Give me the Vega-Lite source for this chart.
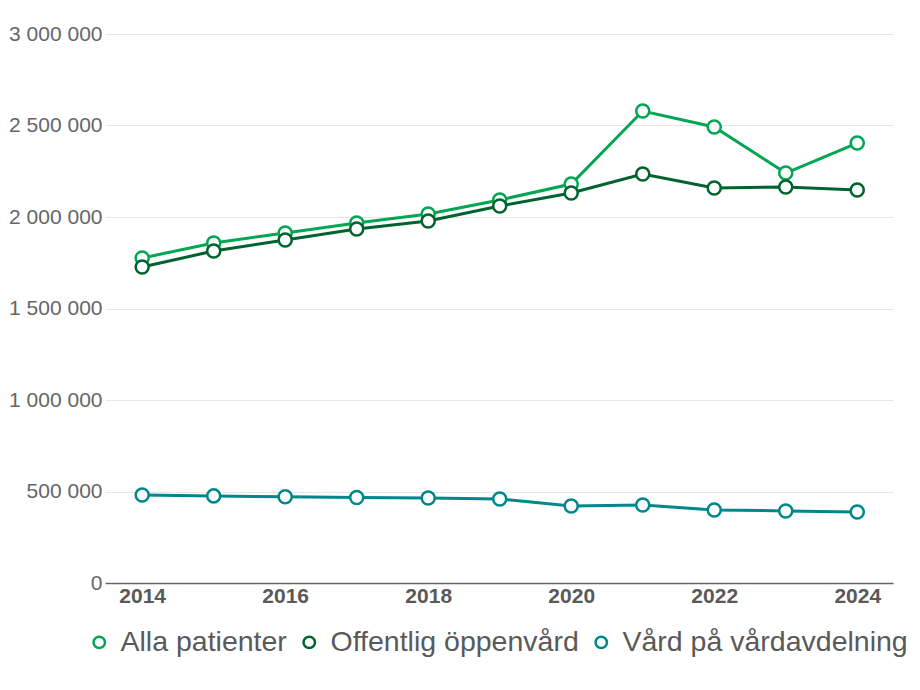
{
  "$schema": "https://vega.github.io/schema/vega-lite/v6.json",
  "autosize": {"type": "none"},
  "padding": {"left": 105, "top": 34, "right": 27, "bottom": 107},
  "width": 788,
  "height": 549,
  "background": "white",
  "config": {
    "locale": {"number": {"decimal": ",", "thousands": " ", "grouping": [3], "currency": ["", " kr"]}},
    "font": "Liberation Sans",
    "view": {"stroke": null}
  },
  "data": {
    "values": [
      {"year": 2014, "serie": "Alla patienter", "value": 1776000},
      {"year": 2015, "serie": "Alla patienter", "value": 1858000},
      {"year": 2016, "serie": "Alla patienter", "value": 1913000},
      {"year": 2017, "serie": "Alla patienter", "value": 1967000},
      {"year": 2018, "serie": "Alla patienter", "value": 2016000},
      {"year": 2019, "serie": "Alla patienter", "value": 2093000},
      {"year": 2020, "serie": "Alla patienter", "value": 2180000},
      {"year": 2021, "serie": "Alla patienter", "value": 2579000},
      {"year": 2022, "serie": "Alla patienter", "value": 2492000},
      {"year": 2023, "serie": "Alla patienter", "value": 2240000},
      {"year": 2024, "serie": "Alla patienter", "value": 2404000},
      {"year": 2014, "serie": "Offentlig öppenvård", "value": 1727000},
      {"year": 2015, "serie": "Offentlig öppenvård", "value": 1814000},
      {"year": 2016, "serie": "Offentlig öppenvård", "value": 1874000},
      {"year": 2017, "serie": "Offentlig öppenvård", "value": 1934000},
      {"year": 2018, "serie": "Offentlig öppenvård", "value": 1978000},
      {"year": 2019, "serie": "Offentlig öppenvård", "value": 2060000},
      {"year": 2020, "serie": "Offentlig öppenvård", "value": 2131000},
      {"year": 2021, "serie": "Offentlig öppenvård", "value": 2235000},
      {"year": 2022, "serie": "Offentlig öppenvård", "value": 2158000},
      {"year": 2023, "serie": "Offentlig öppenvård", "value": 2164000},
      {"year": 2024, "serie": "Offentlig öppenvård", "value": 2148000},
      {"year": 2014, "serie": "Vård på vårdavdelning", "value": 481000},
      {"year": 2015, "serie": "Vård på vårdavdelning", "value": 476000},
      {"year": 2016, "serie": "Vård på vårdavdelning", "value": 471000},
      {"year": 2017, "serie": "Vård på vårdavdelning", "value": 467000},
      {"year": 2018, "serie": "Vård på vårdavdelning", "value": 464000},
      {"year": 2019, "serie": "Vård på vårdavdelning", "value": 459000},
      {"year": 2020, "serie": "Vård på vårdavdelning", "value": 421000},
      {"year": 2021, "serie": "Vård på vårdavdelning", "value": 426000},
      {"year": 2022, "serie": "Vård på vårdavdelning", "value": 399000},
      {"year": 2023, "serie": "Vård på vårdavdelning", "value": 394000},
      {"year": 2024, "serie": "Vård på vårdavdelning", "value": 388000}
    ]
  },
  "encoding": {
    "x": {
      "field": "year", "type": "quantitative",
      "scale": {"domain": [2013.48, 2024.5], "nice": false, "zero": false},
      "axis": {
        "title": null, "values": [2014, 2016, 2018, 2020, 2022, 2024], "format": "d",
        "grid": false, "ticks": false, "domainColor": "#666666", "domainWidth": 1.5,
        "labelFont": "Liberation Sans", "labelFontSize": 21, "labelFontWeight": "bold",
        "labelColor": "#595959", "labelPadding": 2
      }
    },
    "y": {
      "field": "value", "type": "quantitative",
      "scale": {"domain": [0, 3000000], "nice": false},
      "axis": {
        "title": null, "values": [0, 500000, 1000000, 1500000, 2000000, 2500000, 3000000],
        "format": ",d", "domain": false, "ticks": false, "gridColor": "#e6e6e6", "gridWidth": 1,
        "labelFont": "Liberation Sans", "labelFontSize": 21, "labelColor": "#666666", "labelPadding": 3
      }
    },
    "color": {
      "field": "serie", "type": "nominal",
      "scale": {
        "domain": ["Alla patienter", "Offentlig öppenvård", "Vård på vårdavdelning"],
        "range": ["#00a651", "#00632e", "#00878a"]
      },
      "legend": {
        "title": null, "orient": "none", "direction": "horizontal", "legendX": -20, "legendY": 594,
        "symbolType": "circle", "symbolSize": 130, "symbolStrokeWidth": 2.5, "symbolFillColor": "white",
        "labelFont": "Liberation Sans", "labelFontSize": 28.5, "labelColor": "#595959", "labelLimit": 0,
        "labelOffset": 7, "columnPadding": 8, "symbolOffset": 0
      }
    }
  },
  "layer": [
    {"mark": {"type": "line", "strokeWidth": 3}},
    {"mark": {"type": "point", "filled": false, "fill": "white", "fillOpacity": 1, "opacity": 1, "size": 170, "strokeWidth": 2.5}}
  ]
}
